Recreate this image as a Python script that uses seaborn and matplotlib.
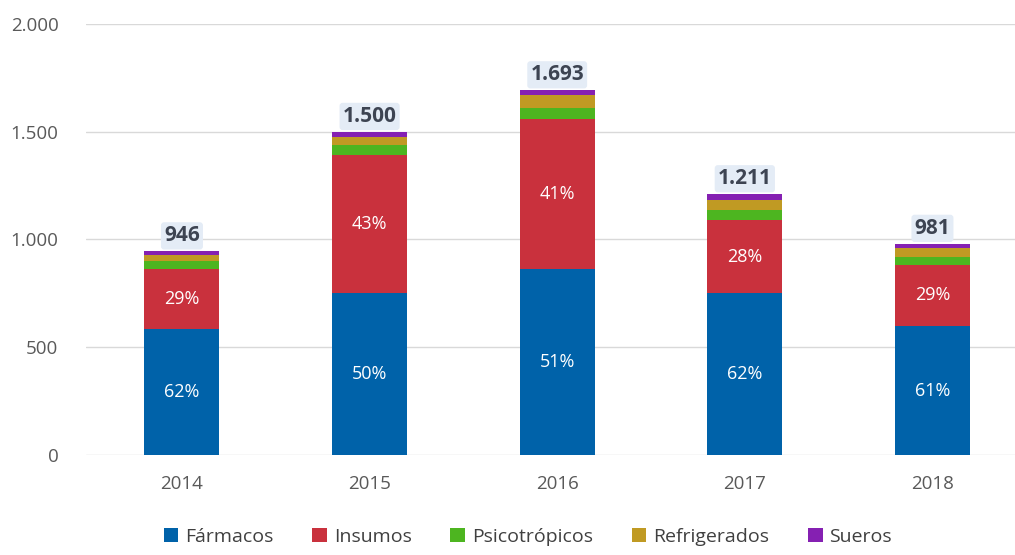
import matplotlib
matplotlib.use("Agg")
import matplotlib.pyplot as plt
import matplotlib.ticker as mticker
from matplotlib.patches import Patch
import seaborn as sns
import pandas as pd

years = ["2014", "2015", "2016", "2017", "2018"]
series_names = ["Fármacos", "Insumos", "Psicotrópicos", "Refrigerados", "Sueros"]
farmacos = [587, 750, 863, 751, 598]
insumos = [274, 640, 694, 339, 285]
psicotropicos = [40, 50, 55, 45, 38]
refrigerados = [25, 35, 60, 48, 40]
sueros = [20, 25, 21, 28, 20]
totals_label = ["946", "1.500", "1.693", "1.211", "981"]
pct_farmacos = ["62%", "50%", "51%", "62%", "61%"]
pct_insumos = ["29%", "43%", "41%", "28%", "29%"]
colors = ["#0062A9", "#C9313D", "#4DB520", "#C09A23", "#8520B2"]

sns.set_theme(style="white")
plt.rcParams["font.family"] = ["Open Sans", "DejaVu Sans"]

data = [farmacos, insumos, psicotropicos, refrigerados, sueros]
df = pd.DataFrame({"year": years})
for name, vals in zip(series_names, data):
    df[name] = vals
cum = df[series_names].cumsum(axis=1)

fig = plt.figure(figsize=(10.15, 5.55), dpi=100)
ax = fig.add_axes([0.085, 0.18, 0.915, 0.777])

# cumulative bars drawn from the top series down, so lower series overlay upper ones
for name, col in reversed(list(zip(series_names, colors))):
    sns.barplot(x=df["year"], y=cum[name], color=col, width=0.4,
                saturation=1, ax=ax, linewidth=0)

ax.set_ylim(0, 2000)
ax.set_xlim(-0.51, 4.44)
ax.yaxis.set_major_locator(mticker.MultipleLocator(500))
ax.yaxis.set_major_formatter(mticker.FuncFormatter(lambda v, p: f"{int(v):,}".replace(",", ".")))
ax.grid(axis="y", color="#D9D9D9", linewidth=1)
ax.set_axisbelow(True)
for s in ax.spines.values():
    s.set_visible(False)
ax.set_xlabel("")
ax.set_ylabel("")
ax.tick_params(axis="both", colors="#595959", labelsize=13.5, length=0)
ax.tick_params(axis="y", pad=20)
ax.tick_params(axis="x", pad=14)

for i in range(len(years)):
    f = farmacos[i]
    ins = insumos[i]
    total = cum[series_names[-1]].iloc[i]
    ax.text(i, f / 2, pct_farmacos[i], ha="center", va="center", color="white", fontsize=13)
    ax.text(i, f + ins / 2, pct_insumos[i], ha="center", va="center", color="white", fontsize=13)
    ax.text(i, total + 22, totals_label[i], ha="center", va="bottom", color="#3D4452",
            fontsize=15, fontweight="bold",
            bbox=dict(boxstyle="round,pad=0.15", facecolor="#E4ECF6", edgecolor="none"))

handles = [Patch(facecolor=c, edgecolor="none", label=n) for n, c in zip(series_names, colors)]
fig.legend(handles=handles, loc="lower center", ncol=5, frameon=False,
           bbox_to_anchor=(0.52, -0.015), fontsize=14, handlelength=0.75, handleheight=0.75,
           handletextpad=0.35, columnspacing=2.0, labelcolor="#404040")

fig.savefig("out.png", dpi=100)
